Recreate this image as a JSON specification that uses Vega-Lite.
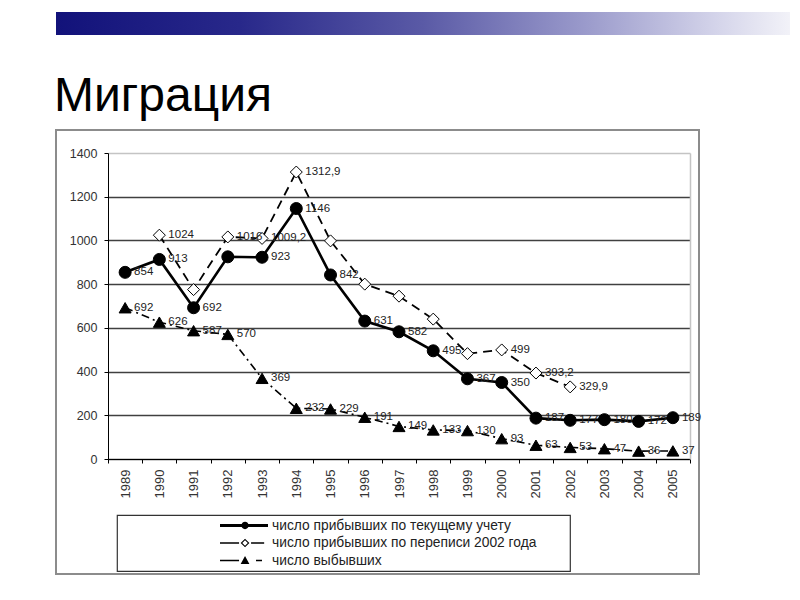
{
  "$schema": "https://vega.github.io/schema/vega-lite/v6.json",
  "background": "white",
  "padding": {"left": 49, "top": 12, "right": 5, "bottom": 5},
  "bounds": "flush",
  "spacing": 95,
  "config": {
    "font": "Liberation Sans",
    "view": {"stroke": "#8c8c8c", "strokeWidth": 2},
    "legend": {"strokeWidth": 1.2}
  },
  "vconcat": [
    {
      "width": 734,
      "height": 23,
      "view": {"stroke": null},
      "data": {"values": [{"x0": 0, "x1": 1}]},
      "mark": {
        "type": "rect",
        "color": {
          "gradient": "linear",
          "x1": 0, "y1": 0, "x2": 1, "y2": 0,
          "stops": [
            {"offset": 0, "color": "#12127a"},
            {"offset": 0.25, "color": "#28288a"},
            {"offset": 0.5, "color": "#5a5aa6"},
            {"offset": 0.72, "color": "#9a9acb"},
            {"offset": 0.9, "color": "#d4d4ea"},
            {"offset": 1, "color": "#f2f2f8"}
          ]
        }
      },
      "encoding": {
        "x": {"field": "x0", "type": "quantitative", "scale": {"domain": [0, 1], "nice": false, "zero": false}, "axis": null},
        "x2": {"field": "x1"}
      }
    },
    {
      "width": 643,
      "height": 444,
      "title": {
        "text": "Миграция",
        "anchor": "start",
        "frame": "group",
        "fontSize": 48,
        "fontWeight": "normal",
        "font": "Liberation Sans",
        "color": "black",
        "baseline": "alphabetic",
        "offset": -29,
        "dx": -2
      },
      "data": {
        "values": [
          {"year": 1989, "series": "число прибывших по текущему учету", "value": 854, "lab": "854"},
          {"year": 1990, "series": "число прибывших по текущему учету", "value": 913, "lab": "913"},
          {"year": 1991, "series": "число прибывших по текущему учету", "value": 692, "lab": "692"},
          {"year": 1992, "series": "число прибывших по текущему учету", "value": 925, "lab": null},
          {"year": 1993, "series": "число прибывших по текущему учету", "value": 923, "lab": "923"},
          {"year": 1994, "series": "число прибывших по текущему учету", "value": 1146, "lab": "1146"},
          {"year": 1995, "series": "число прибывших по текущему учету", "value": 842, "lab": "842"},
          {"year": 1996, "series": "число прибывших по текущему учету", "value": 631, "lab": "631"},
          {"year": 1997, "series": "число прибывших по текущему учету", "value": 582, "lab": "582"},
          {"year": 1998, "series": "число прибывших по текущему учету", "value": 495, "lab": "495"},
          {"year": 1999, "series": "число прибывших по текущему учету", "value": 367, "lab": "367"},
          {"year": 2000, "series": "число прибывших по текущему учету", "value": 350, "lab": "350"},
          {"year": 2001, "series": "число прибывших по текущему учету", "value": 187, "lab": "187"},
          {"year": 2002, "series": "число прибывших по текущему учету", "value": 177, "lab": "177"},
          {"year": 2003, "series": "число прибывших по текущему учету", "value": 180, "lab": "180"},
          {"year": 2004, "series": "число прибывших по текущему учету", "value": 172, "lab": "172"},
          {"year": 2005, "series": "число прибывших по текущему учету", "value": 189, "lab": "189"},
          {"year": 1990, "series": "число прибывших по переписи 2002 года", "value": 1024, "lab": "1024"},
          {"year": 1991, "series": "число прибывших по переписи 2002 года", "value": 775, "lab": null},
          {"year": 1992, "series": "число прибывших по переписи 2002 года", "value": 1016, "lab": "1016"},
          {"year": 1993, "series": "число прибывших по переписи 2002 года", "value": 1009.2, "lab": "1009,2"},
          {"year": 1994, "series": "число прибывших по переписи 2002 года", "value": 1312.9, "lab": "1312,9"},
          {"year": 1995, "series": "число прибывших по переписи 2002 года", "value": 998, "lab": null},
          {"year": 1996, "series": "число прибывших по переписи 2002 года", "value": 800, "lab": null},
          {"year": 1997, "series": "число прибывших по переписи 2002 года", "value": 745, "lab": null},
          {"year": 1998, "series": "число прибывших по переписи 2002 года", "value": 640, "lab": null},
          {"year": 1999, "series": "число прибывших по переписи 2002 года", "value": 482, "lab": null},
          {"year": 2000, "series": "число прибывших по переписи 2002 года", "value": 499, "lab": "499"},
          {"year": 2001, "series": "число прибывших по переписи 2002 года", "value": 393.2, "lab": "393,2"},
          {"year": 2002, "series": "число прибывших по переписи 2002 года", "value": 329.9, "lab": "329,9"},
          {"year": 1989, "series": "число выбывших", "value": 692, "lab": "692"},
          {"year": 1990, "series": "число выбывших", "value": 626, "lab": "626"},
          {"year": 1991, "series": "число выбывших", "value": 587, "lab": "587"},
          {"year": 1992, "series": "число выбывших", "value": 570, "lab": "570"},
          {"year": 1993, "series": "число выбывших", "value": 369, "lab": "369"},
          {"year": 1994, "series": "число выбывших", "value": 232, "lab": "232"},
          {"year": 1995, "series": "число выбывших", "value": 229, "lab": "229"},
          {"year": 1996, "series": "число выбывших", "value": 191, "lab": "191"},
          {"year": 1997, "series": "число выбывших", "value": 149, "lab": "149"},
          {"year": 1998, "series": "число выбывших", "value": 133, "lab": "133"},
          {"year": 1999, "series": "число выбывших", "value": 130, "lab": "130"},
          {"year": 2000, "series": "число выбывших", "value": 93, "lab": "93"},
          {"year": 2001, "series": "число выбывших", "value": 63, "lab": "63"},
          {"year": 2002, "series": "число выбывших", "value": 53, "lab": "53"},
          {"year": 2003, "series": "число выбывших", "value": 47, "lab": "47"},
          {"year": 2004, "series": "число выбывших", "value": 36, "lab": "36"},
          {"year": 2005, "series": "число выбывших", "value": 37, "lab": "37"}
        ]
      },
      "encoding": {
        "x": {
          "field": "year",
          "type": "ordinal",
          "bandPosition": 0.5,
          "scale": {"type": "band", "range": [52, 634], "paddingInner": 0, "paddingOuter": 0},
          "axis": {
            "orient": "bottom",
            "offset": -115,
            "title": null,
            "labelAngle": 270,
            "labelFont": "Liberation Sans",
            "labelFontSize": 13,
            "labelColor": "#333333",
            "labelPadding": 6,
            "tickBand": "extent",
            "tickSize": 4,
            "tickColor": "black",
            "domainColor": "black",
            "domainWidth": 1,
            "grid": false
          }
        }
      },
      "layer": [
        {
          "transform": [{"filter": "datum.series === 'число прибывших по текущему учету'"}],
          "mark": {"type": "line", "color": "black", "strokeWidth": 2.6},
          "encoding": {
            "y": {
              "field": "value",
              "type": "quantitative",
              "scale": {"domain": [0, 1400], "range": [329, 23], "nice": false, "zero": true},
              "axis": {
                "orient": "left",
                "offset": -52,
                "title": null,
                "format": "d",
                "values": [0, 200, 400, 600, 800, 1000, 1200, 1400],
                "labelFont": "Liberation Sans",
                "labelFontSize": 12.5,
                "labelColor": "#333333",
                "labelPadding": 7,
                "tickSize": 4,
                "tickColor": "black",
                "domainColor": "black",
                "domainWidth": 1,
                "grid": true,
                "gridWidth": 1.5,
                "gridColor": {"condition": {"test": "datum.value === 1400", "value": "#c4c4c4"}, "value": "#404040"}
              }
            }
          }
        },
        {
          "transform": [{"filter": "datum.series === 'число прибывших по переписи 2002 года'"}],
          "mark": {"type": "line", "color": "black", "strokeWidth": 1.8, "strokeDash": [9, 6]},
          "encoding": {"y": {"field": "value", "type": "quantitative", "axis": null}}
        },
        {
          "transform": [{"filter": "datum.series === 'число выбывших'"}],
          "mark": {"type": "line", "color": "black", "strokeWidth": 1.6, "strokeDash": [8, 4, 2, 4]},
          "encoding": {"y": {"field": "value", "type": "quantitative", "axis": null}}
        },
        {
          "mark": {"type": "point", "filled": true, "opacity": 1, "stroke": "black", "strokeWidth": 1, "size": 144},
          "encoding": {
            "y": {"field": "value", "type": "quantitative", "axis": null},
            "fill": {
              "field": "series",
              "type": "nominal",
              "scale": {"domain": ["число прибывших по текущему учету", "число прибывших по переписи 2002 года", "число выбывших"], "range": ["black", "white", "black"]},
              "legend": null
            },
            "shape": {
              "field": "series",
              "type": "nominal",
              "scale": {"domain": ["число прибывших по текущему учету", "число прибывших по переписи 2002 года", "число выбывших"], "range": ["circle", "diamond", "triangle-up"]},
              "legend": null
            }
          }
        },
        {
          "transform": [{"filter": "false"}],
          "mark": {"type": "point", "filled": true, "opacity": 1, "color": "black"},
          "encoding": {
            "y": {"field": "value", "type": "quantitative", "axis": null},
            "shape": {
              "field": "series",
              "type": "nominal",
              "scale": {
                "domain": ["число прибывших по текущему учету", "число прибывших по переписи 2002 года", "число выбывших"],
                "range": [
                  "M-1,0L-1,0.001L-0.999,0ZM0.378,-0.02L1.038,-0.02L1.038,0.02L0.378,0.02ZM0.672,0A0.05,0.05,0,1,1,0.772,0A0.05,0.05,0,1,1,0.672,0Z",
                  "M-1,0L-1,0.001L-0.999,0ZM0.378,-0.011L0.64,-0.011L0.64,0.011L0.378,0.011ZM0.805,-0.011L0.985,-0.011L0.985,0.011L0.805,0.011ZM0.722,-0.06L0.782,0L0.722,0.06L0.662,0ZM0.722,-0.038L0.684,0L0.722,0.038L0.76,0Z",
                  "M-1,0L-1,0.001L-0.999,0ZM0.378,-0.011L0.64,-0.011L0.64,0.011L0.378,0.011ZM0.873,-0.011L0.955,-0.011L0.955,0.011L0.873,0.011ZM0.662,0.048L0.722,-0.062L0.782,0.048Z"
                ]
              },
              "legend": {
                "title": " ",
                "titleOrient": "right",
                "titlePadding": 32,
                "titleFontSize": 10,
                "orient": "none",
                "legendX": 61,
                "legendY": 385,
                "direction": "vertical",
                "padding": 2,
                "strokeColor": "#333333",
                "fillColor": "white",
                "labelFont": "Liberation Sans",
                "labelFontSize": 13.8,
                "labelColor": "#222222",
                "labelOffset": 6,
                "labelLimit": 500,
                "symbolSize": 21170,
                "symbolStrokeWidth": 1.5,
                "clipHeight": 17,
                "rowPadding": 0.5
              }
            }
          }
        },
        {
          "transform": [{"filter": "isValid(datum.lab)"}],
          "mark": {"type": "text", "align": "left", "baseline": "middle", "dx": 9, "dy": 0, "fontSize": 11.5, "font": "Liberation Sans", "color": "#222222"},
          "encoding": {
            "y": {
              "field": "value",
              "type": "quantitative",
              "axis": {
                "orient": "right",
                "offset": -9,
                "title": null,
                "labels": false,
                "ticks": false,
                "grid": false,
                "domainColor": "#c4c4c4",
                "domainWidth": 1.5
              }
            },
            "text": {"field": "lab", "type": "nominal"}
          }
        }
      ],
      "resolve": {"axis": {"y": "independent"}, "scale": {"shape": "independent"}, "legend": {"shape": "independent"}}
    }
  ]
}
